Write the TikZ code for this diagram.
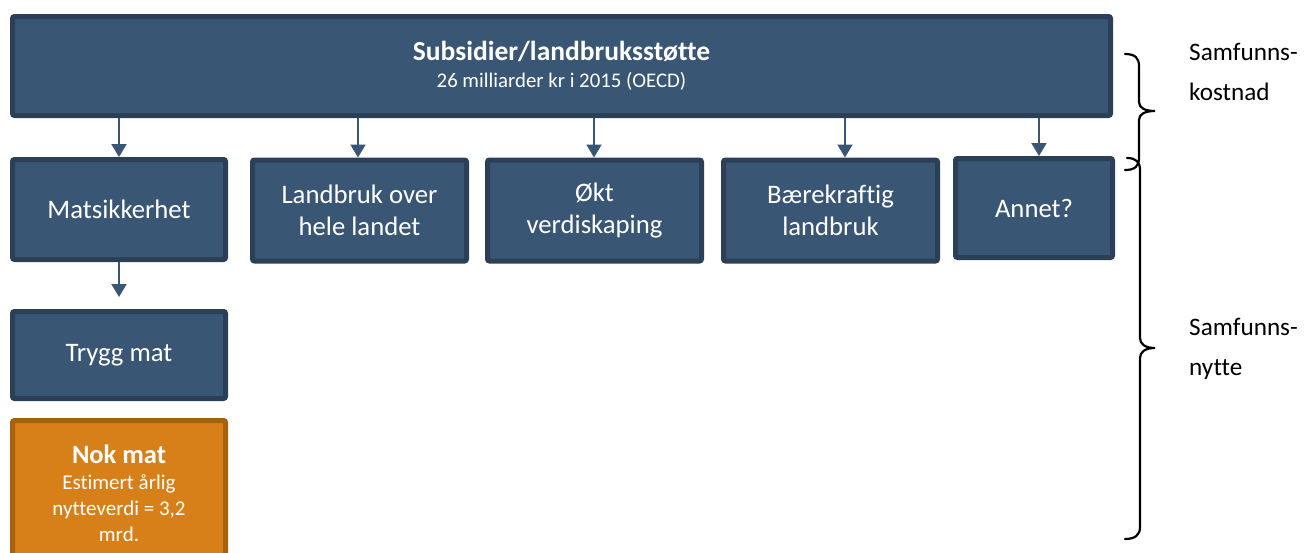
\documentclass[tikz,border=0pt]{standalone}
\usepackage{fontspec}
\setmainfont{Carlito}[Ligatures=NoCommon]
\usetikzlibrary{arrows.meta}
\definecolor{boxfill}{HTML}{3A5675}
\definecolor{boxline}{HTML}{2B3F56}
\definecolor{orfill}{HTML}{D77F18}
\definecolor{orline}{HTML}{A5620E}
\tikzset{
  box/.style={draw=boxline, fill=boxfill, line width=5pt, rounded corners=2pt,
    text=white, align=center, inner sep=0pt,
    font=\fontsize{26.7}{32.5}\selectfont},
  obox/.style={box, draw=orline, fill=orfill, font=\fontsize{21}{26}\selectfont},
  arr/.style={draw=boxfill, line width=2pt, -{Triangle[width=15pt,length=13pt]}},
  brace/.style={draw=black, line width=2.2pt, line cap=round},
  side/.style={anchor=north west, inner sep=0pt, align=left,
    font=\fontsize{25.2}{40.5}\selectfont}
}
\begin{document}
\begin{tikzpicture}[x=1pt,y=-1pt]
\useasboundingbox (0,0) rectangle (1306,552);
\begin{scope}
\clip (0,0) rectangle (1306,552);
\node[box, minimum width=1098, minimum height=99, font=\fontsize{20.8}{27}\selectfont] (top) at (561.5,66)
  {\fontsize{27.5}{27}\selectfont\bfseries Subsidier/landbruksstøtte\\\fontsize{20.8}{27}\selectfont 26 milliarder kr i 2015 (OECD)};
\node[box, minimum width=213, minimum height=100] (b1) at (119,209.5) {Matsikkerhet};
\node[box, minimum width=214, minimum height=101] (b2) at (359.5,210.5) {Landbruk over\\hele landet};
\node[box, minimum width=214, minimum height=101] (b3) at (594.5,210.5) {Økt\\verdiskaping};
\node[box, minimum width=214, minimum height=101] (b4) at (830.5,210.5) {Bærekraftig\\landbruk};
\node[box, minimum width=157, minimum height=99] (b5) at (1034,208) {Annet?};
\node[box, minimum width=213, minimum height=87] (trygg) at (119,355) {Trygg mat};
\node[obox, minimum width=213, minimum height=145] (nok) at (119,493)
  {\fontsize{26.5}{27}\selectfont\bfseries Nok mat\\Estimert årlig\\nytteverdi = 3,2\\mrd.};
\end{scope}
\draw[arr] (b1.north |- top.south) -- (b1.north);
\draw[arr] (358,0 |- top.south) -- (358,0 |- b2.north);
\draw[arr] (594,0 |- top.south) -- (594,0 |- b3.north);
\draw[arr] (845,0 |- top.south) -- (845,0 |- b4.north);
\draw[arr] (1039,0 |- top.south) -- (1039,0 |- b5.north);
\draw[arr, shorten >=12pt] (b1.south) -- (trygg.north);
\coordinate (k1) at (1125,54);
\coordinate (k2) at (1125,170);
\coordinate (n1) at (1127,158);
\coordinate (n2) at (1125,539);
\draw[brace] (k1) .. controls (1135,54) and (1139,58) .. (1139,66) -- (1139,102)
  .. controls (1139,108) and (1145,111) .. (1155,111)
  .. controls (1145,111) and (1139,114) .. (1139,120) -- (1139,158)
  .. controls (1139,166) and (1135,170) .. (k2);
\draw[brace] (n1) .. controls (1136,158) and (1140,162) .. (1140,170) -- (1140,338)
  .. controls (1140,344) and (1145,348) .. (1155,348)
  .. controls (1145,348) and (1140,352) .. (1140,358) -- (1140,527)
  .. controls (1140,535) and (1135,539) .. (n2);
\node[side] (s1) at (1189,43) {Samfunns-\\kostnad};
\node[side] (s2) at (1189,318) {Samfunns-\\nytte};
\end{tikzpicture}
\end{document}
